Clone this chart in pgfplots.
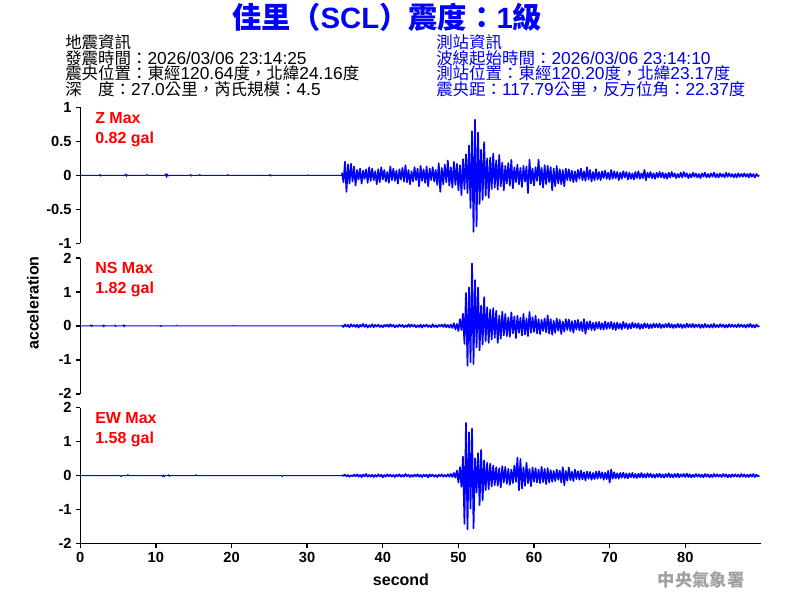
\documentclass[border=0pt]{standalone}
\usepackage{pgfplots}
\pgfplotsset{compat=1.18}
\usepackage{fontspec}
\setmainfont{Liberation Sans}
\newfontfamily\cjk{Noto Sans CJK TC}
\newfontfamily\cjki[Scale=0.95]{Noto Sans CJK TC}
\definecolor{trace}{RGB}{0,0,255}
\definecolor{lblred}{RGB}{255,0,0}
\definecolor{infoblue}{RGB}{0,0,230}
\definecolor{wm}{RGB}{160,160,160}
\pgfplotsset{
  seis/.style={
    scale only axis, width=510.5pt, height=101.9pt,
    xmin=0, xmax=90,
    axis y line*=left,
    tick align=outside, major tick length=3pt,
    axis line style={line width=1pt, black},
    every tick/.style={line width=1pt, black},
    /pgf/number format/assume math mode=true,
    tick label style={font=\bfseries\fontsize{11}{11}\selectfont},
  },
  trc/.style={trace, line width=0.75pt, line join=round, mark=none},
  trca/.style={trace, line width=1.25pt, line join=round, mark=none},
}
\begin{document}
\begin{tikzpicture}
\useasboundingbox (0,0) rectangle (600pt,450pt);
% ---------------- Z ----------------
\begin{axis}[seis, at={(60.2pt,369.4pt)}, anchor=north west,
  ymin=-1, ymax=1, ytick={-1,-0.5,0,0.5,1}, axis x line=none]
\addplot[trc] coordinates {(0,0) (2.5,0) (2.6,0.015) (2.7,-0.01) (2.8,0) (5.9,0) (6.0,0.02) (6.1,-0.015) (6.2,0.01) (6.3,0) (8.7,0) (8.8,0.015) (8.9,0) (11.2,0) (11.3,0.025) (11.4,-0.03) (11.5,0.02) (11.6,-0.01) (11.7,0) (14.5,0) (14.6,0.015) (14.7,-0.01) (14.8,0) (15.7,0) (15.8,0.015) (15.9,0) (19.4,0) (19.5,0.012) (19.6,0) (25,0) (25.1,0.015) (25.2,-0.01) (25.3,0) (30,0) (30.1,0.01) (30.2,0) (34.6,0)};
\addplot[trca] table[row sep=\\, header=false, x expr=34.6+0.2*\coordindex, y index=0] {
0.04\\-0.10\\0.20\\-0.24\\0.16\\-0.12\\0.17\\-0.09\\0.13\\-0.15\\
0.08\\-0.06\\0.10\\-0.12\\0.07\\-0.05\\0.09\\-0.11\\0.12\\-0.08\\
0.10\\-0.07\\0.06\\-0.13\\0.09\\-0.10\\0.12\\-0.06\\0.08\\-0.09\\
0.05\\-0.11\\0.13\\-0.07\\0.10\\-0.08\\0.07\\-0.12\\0.09\\-0.06\\
0.11\\-0.09\\0.15\\-0.10\\0.08\\-0.13\\0.06\\-0.09\\0.12\\-0.07\\
0.10\\-0.16\\0.14\\-0.08\\0.09\\-0.11\\0.13\\-0.16\\0.10\\-0.07\\
0.12\\-0.09\\0.08\\-0.14\\0.18\\-0.24\\0.11\\-0.13\\0.16\\-0.10\\
0.22\\-0.15\\0.12\\-0.18\\0.20\\-0.14\\0.17\\-0.22\\0.15\\-0.29\\
0.24\\-0.20\\0.31\\-0.26\\0.44\\-0.48\\0.65\\-0.83\\0.82\\-0.75\\
0.63\\-0.42\\0.38\\-0.36\\0.49\\-0.30\\0.25\\-0.33\\0.26\\-0.20\\
0.32\\-0.18\\0.22\\-0.21\\0.30\\-0.16\\0.19\\-0.22\\0.14\\-0.12\\
0.18\\-0.15\\0.23\\-0.19\\0.12\\-0.10\\0.16\\-0.13\\0.11\\-0.17\\
0.14\\-0.09\\0.13\\-0.26\\0.23\\-0.12\\0.10\\-0.15\\0.12\\-0.08\\
0.23\\-0.14\\0.11\\-0.18\\0.15\\-0.13\\0.14\\-0.10\\0.12\\-0.22\\
0.10\\-0.16\\0.14\\-0.12\\0.09\\-0.13\\0.08\\-0.16\\0.10\\-0.07\\
0.09\\-0.08\\0.07\\-0.10\\0.06\\-0.09\\0.08\\-0.05\\0.10\\-0.07\\
0.06\\-0.08\\0.12\\-0.06\\0.08\\-0.09\\0.05\\-0.07\\0.09\\-0.06\\
0.05\\-0.07\\0.06\\-0.04\\0.07\\-0.05\\0.04\\-0.06\\0.08\\-0.05\\
0.06\\-0.04\\0.05\\-0.07\\0.04\\-0.05\\0.06\\-0.03\\0.05\\-0.06\\
0.04\\-0.05\\0.03\\-0.06\\0.05\\-0.04\\0.06\\-0.05\\0.03\\-0.04\\
0.08\\-0.07\\0.04\\-0.03\\0.05\\-0.04\\0.03\\-0.05\\0.04\\-0.03\\
0.05\\-0.03\\0.04\\-0.04\\0.03\\-0.05\\0.04\\-0.03\\0.05\\-0.02\\
0.03\\-0.04\\0.02\\-0.03\\0.04\\-0.03\\0.05\\-0.02\\0.03\\-0.04\\
0.02\\-0.03\\0.04\\-0.02\\0.03\\-0.03\\0.02\\-0.04\\0.03\\-0.02\\
0.04\\-0.03\\0.02\\-0.03\\0.03\\-0.02\\0.04\\-0.03\\0.02\\-0.03\\
0.03\\-0.02\\0.02\\-0.03\\0.04\\-0.02\\0.03\\-0.02\\0.02\\-0.03\\
0.02\\-0.03\\0.03\\-0.02\\0.02\\-0.02\\0.03\\-0.02\\0.02\\-0.03\\
0.03\\-0.02\\0.02\\-0.03\\0.02\\-0.01\\0.00\\
};
\end{axis}
% ---------------- NS ----------------
\begin{axis}[seis, at={(60.2pt,256.5pt)}, anchor=north west,
  ymin=-2, ymax=2, ytick={-2,-1,0,1,2}, axis x line=none]
\addplot[trc] coordinates {(0,0) (1.3,0) (1.4,0.03) (1.5,-0.02) (1.6,0.02) (1.7,0) (2.9,0) (3.0,0.03) (3.1,-0.03) (3.2,0.02) (3.3,0) (4.5,0) (4.6,0.025) (4.7,-0.02) (4.8,0) (5.6,0) (5.7,0.03) (5.8,-0.03) (5.9,0.02) (6.0,0) (10.5,0) (10.6,0.02) (10.7,-0.02) (10.8,0) (12.6,0) (12.7,0.02) (12.8,0) (20.2,0) (20.3,0.015) (20.4,0) (34.6,0)};
\addplot[trca] table[row sep=\\, header=false, x expr=34.6+0.2*\coordindex, y index=0] {
0.02\\-0.03\\0.04\\-0.02\\0.03\\-0.04\\0.05\\-0.02\\0.03\\-0.03\\
0.04\\-0.05\\0.03\\-0.02\\0.06\\-0.03\\0.04\\-0.05\\0.02\\-0.03\\
0.05\\-0.04\\0.03\\-0.02\\0.04\\-0.03\\0.02\\-0.04\\0.03\\-0.02\\
0.04\\-0.03\\0.05\\-0.02\\0.03\\-0.04\\0.02\\-0.03\\0.04\\-0.02\\
0.03\\-0.04\\0.02\\-0.03\\0.05\\-0.03\\0.04\\-0.02\\0.03\\-0.04\\
0.02\\-0.03\\0.04\\-0.05\\0.03\\-0.02\\0.04\\-0.03\\0.02\\-0.04\\
0.05\\-0.03\\0.02\\-0.04\\0.03\\-0.02\\0.04\\-0.03\\0.05\\-0.04\\
0.03\\-0.05\\0.04\\-0.06\\0.08\\-0.10\\0.06\\-0.15\\0.20\\-0.12\\
0.36\\-0.53\\0.97\\-1.17\\1.13\\-1.07\\1.84\\-1.12\\1.35\\-0.63\\
1.13\\-0.72\\0.60\\-0.55\\0.85\\-0.45\\0.55\\-0.50\\0.48\\-0.40\\
0.52\\-0.35\\0.45\\-0.50\\0.30\\-0.38\\0.42\\-0.28\\0.35\\-0.30\\
0.25\\-0.32\\0.40\\-0.22\\0.28\\-0.36\\0.30\\-0.20\\0.24\\-0.28\\
0.35\\-0.25\\0.22\\-0.30\\0.41\\-0.20\\0.26\\-0.18\\0.30\\-0.22\\
0.20\\-0.24\\0.18\\-0.15\\0.22\\-0.19\\0.31\\-0.23\\0.20\\-0.26\\
0.15\\-0.20\\0.22\\-0.14\\0.18\\-0.24\\0.13\\-0.17\\0.20\\-0.12\\
0.19\\-0.15\\0.14\\-0.20\\0.16\\-0.11\\0.18\\-0.13\\0.12\\-0.16\\
0.20\\-0.23\\0.12\\-0.10\\0.14\\-0.12\\0.09\\-0.13\\0.11\\-0.08\\
0.12\\-0.10\\0.08\\-0.11\\0.13\\-0.09\\0.10\\-0.07\\0.12\\-0.10\\
0.09\\-0.12\\0.10\\-0.08\\0.07\\-0.10\\0.12\\-0.06\\0.08\\-0.09\\
0.06\\-0.08\\0.10\\-0.05\\0.07\\-0.06\\0.08\\-0.09\\0.05\\-0.07\\
0.08\\-0.05\\0.06\\-0.07\\0.05\\-0.06\\0.07\\-0.04\\0.06\\-0.05\\
0.07\\-0.06\\0.04\\-0.05\\0.06\\-0.04\\0.08\\-0.05\\0.05\\-0.06\\
0.04\\-0.05\\0.06\\-0.04\\0.05\\-0.06\\0.04\\-0.05\\0.07\\-0.04\\
0.05\\-0.04\\0.06\\-0.05\\0.04\\-0.03\\0.05\\-0.06\\0.04\\-0.05\\
0.06\\-0.04\\0.03\\-0.05\\0.04\\-0.05\\0.06\\-0.04\\0.03\\-0.04\\
0.05\\-0.03\\0.04\\-0.05\\0.03\\-0.04\\0.05\\-0.03\\0.04\\-0.03\\
0.03\\-0.04\\0.05\\-0.03\\0.04\\-0.03\\0.03\\-0.05\\0.04\\-0.03\\
0.06\\-0.04\\0.03\\-0.05\\0.04\\-0.02\\0.00\\
};
\end{axis}
% ---------------- EW ----------------
\begin{axis}[seis, at={(60.2pt,144.2pt)}, anchor=north west,
  ymin=-2, ymax=2, ytick={-2,-1,0,1,2},
  axis x line*=bottom, xtick={0,10,...,80}]
\addplot[trc] coordinates {(0,0) (5.3,0) (5.4,-0.03) (5.5,0) (6.2,0) (6.3,0.03) (6.4,0) (10.8,0) (10.9,-0.03) (11.0,0.02) (11.1,-0.03) (11.2,0) (11.6,0) (11.7,0.03) (11.8,-0.02) (11.9,0) (15.2,0) (15.3,0.03) (15.4,0) (26.6,0) (26.7,-0.03) (26.8,0) (34.6,0)};
\addplot[trca] table[row sep=\\, header=false, x expr=34.6+0.2*\coordindex, y index=0] {
0.02\\-0.01\\0.03\\-0.02\\0.02\\-0.03\\0.01\\-0.02\\0.03\\-0.02\\
0.04\\-0.03\\0.02\\-0.04\\0.03\\-0.02\\0.05\\-0.03\\0.02\\-0.03\\
0.03\\-0.04\\0.02\\-0.03\\0.04\\-0.02\\0.03\\-0.05\\0.02\\-0.03\\
0.04\\-0.02\\0.03\\-0.03\\0.02\\-0.04\\0.03\\-0.02\\0.04\\-0.03\\
0.02\\-0.03\\0.05\\-0.02\\0.03\\-0.04\\0.02\\-0.03\\0.03\\-0.02\\
0.04\\-0.03\\0.02\\-0.04\\0.03\\-0.02\\0.03\\-0.05\\0.04\\-0.02\\
0.03\\-0.03\\0.02\\-0.04\\0.03\\-0.02\\0.04\\-0.03\\0.02\\-0.03\\
0.04\\-0.03\\0.05\\-0.04\\0.08\\-0.06\\0.15\\-0.20\\0.25\\-0.33\\
0.56\\-1.42\\1.55\\-1.58\\1.28\\-0.97\\1.38\\-1.55\\0.51\\-0.50\\
0.66\\-0.87\\0.76\\-0.73\\0.45\\-0.43\\0.38\\-0.40\\0.35\\-0.32\\
0.30\\-0.28\\0.25\\-0.30\\0.22\\-0.35\\0.28\\-0.20\\0.26\\-0.24\\
0.20\\-0.27\\0.18\\-0.22\\0.30\\-0.18\\0.53\\-0.43\\0.49\\-0.38\\
0.25\\-0.30\\0.38\\-0.22\\0.20\\-0.31\\0.24\\-0.18\\0.22\\-0.20\\
0.18\\-0.22\\0.26\\-0.19\\0.20\\-0.25\\0.22\\-0.20\\0.16\\-0.18\\
0.14\\-0.16\\0.18\\-0.12\\0.15\\-0.20\\0.25\\-0.28\\0.14\\-0.15\\
0.24\\-0.13\\0.12\\-0.16\\0.18\\-0.10\\0.13\\-0.12\\0.15\\-0.11\\
0.10\\-0.14\\0.12\\-0.09\\0.11\\-0.12\\0.08\\-0.10\\0.12\\-0.09\\
0.13\\-0.08\\0.10\\-0.12\\0.09\\-0.10\\0.14\\-0.20\\0.18\\-0.09\\
0.10\\-0.08\\0.07\\-0.09\\0.08\\-0.06\\0.09\\-0.07\\0.06\\-0.08\\
0.07\\-0.05\\0.08\\-0.06\\0.05\\-0.07\\0.06\\-0.05\\0.08\\-0.06\\
0.05\\-0.06\\0.07\\-0.04\\0.06\\-0.05\\0.04\\-0.06\\0.05\\-0.04\\
0.06\\-0.05\\0.04\\-0.06\\0.05\\-0.04\\0.07\\-0.05\\0.04\\-0.05\\
0.05\\-0.04\\0.06\\-0.05\\0.04\\-0.03\\0.05\\-0.04\\0.06\\-0.04\\
0.04\\-0.05\\0.03\\-0.04\\0.05\\-0.03\\0.04\\-0.04\\0.03\\-0.05\\
0.05\\-0.03\\0.04\\-0.05\\0.03\\-0.04\\0.05\\-0.03\\0.04\\-0.03\\
0.03\\-0.04\\0.05\\-0.03\\0.04\\-0.05\\0.03\\-0.04\\0.04\\-0.03\\
0.04\\-0.03\\0.03\\-0.04\\0.05\\-0.03\\0.04\\-0.04\\0.03\\-0.04\\
0.04\\-0.03\\0.05\\-0.04\\0.03\\-0.02\\0.00\\
};
\end{axis}
% ---------------- texts ----------------
\node[anchor=base, inner sep=0, text=trace, font=\bfseries\fontsize{22}{22}\selectfont] at (290.6pt,428.5pt)
  {{\cjk\bfseries 佳里（}SCL{\cjk\bfseries ）震度：}1{\cjk\bfseries 級}};
\begin{scope}[every node/.style={anchor=base west, inner sep=0, text height=9.5pt, text depth=1pt, font=\fontsize{13}{13}\selectfont}]
\node at (48.75pt,413.6pt) {\cjki 地震資訊};
\node at (48.75pt,401.6pt) {{\cjki 發震時間：}2026/03/06 23:14:25};
\node at (48.75pt,390.4pt) {{\cjki 震央位置：東經}120.64{\cjki 度，北緯}24.16{\cjki 度}};
\node at (48.75pt,378.4pt) {{\cjki 深　度：}27.0{\cjki 公里，芮氏規模：}4.5};
\node[text=infoblue] at (327pt,413.6pt) {\cjki 測站資訊};
\node[text=infoblue] at (327pt,401.6pt) {{\cjki 波線起始時間：}2026/03/06 23:14:10};
\node[text=infoblue] at (327pt,390.4pt) {{\cjki 測站位置：東經}120.20{\cjki 度，北緯}23.17{\cjki 度}};
\node[text=infoblue] at (327pt,378.4pt) {{\cjki 震央距：}117.79{\cjki 公里，反方位角：}22.37{\cjki 度}};
\end{scope}
\begin{scope}[every node/.style={anchor=base west, inner sep=0, text=lblred, font=\bfseries\fontsize{12}{12}\selectfont}]
\node at (71.25pt,357pt) {Z Max};
\node at (71.25pt,342pt) {0.82 gal};
\node at (71.25pt,244.5pt) {NS Max};
\node at (71.25pt,229.5pt) {1.82 gal};
\node at (71.25pt,132pt) {EW Max};
\node at (71.25pt,117pt) {1.58 gal};
\end{scope}
\node[rotate=90, inner sep=0, font=\bfseries\fontsize{12}{12}\selectfont] at (24.75pt,222.75pt) {acceleration};
\node[inner sep=0, font=\bfseries\fontsize{12}{12}\selectfont] at (300.75pt,15pt) {second};
\node[inner sep=0, text=wm, font=\cjk\bfseries\fontsize{13}{13}\selectfont] at (525.75pt,15pt) {中央氣象署};
\end{tikzpicture}
\end{document}
